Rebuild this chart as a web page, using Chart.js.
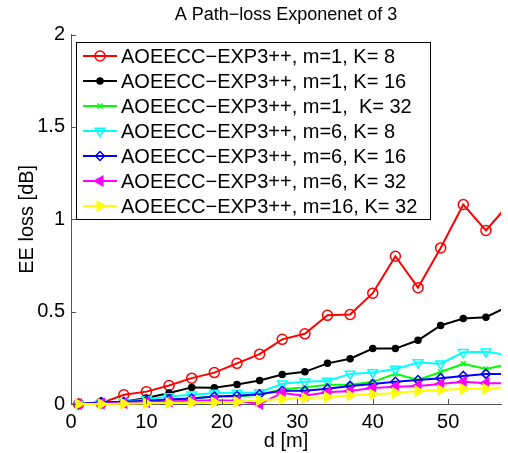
<!DOCTYPE html>
<html lang="en">
<head>
    <meta charset="UTF-8">
    <title>A Path-loss Exponenet of 3</title>

    <!-- Chart.js -->
    <script src="https://cdn.jsdelivr.net/npm/chart.js"></script>

    <style>
        html, body {
            margin: 0;
            padding: 0;
            background: #ffffff;
        }
        canvas {
            display: block;
        }
    </style>
</head>
<body>

    <canvas id="lossChart" width="508" height="453"></canvas>

    <script>
        // Distance d [m] of each sample
        const distances = [1, 4, 7, 10, 13, 16, 19, 22, 25, 28, 31, 34, 37, 40, 43, 46, 49, 52, 55, 58];

        // EE loss [dB] per configuration
        const m1K8   = [0, 0.005, 0.05, 0.067, 0.10, 0.14, 0.17, 0.22, 0.27, 0.35, 0.38, 0.48, 0.485, 0.60, 0.80, 0.63, 0.845, 1.08, 0.94, 1.08];
        const m1K16  = [0, 0.005, 0.012, 0.033, 0.06, 0.09, 0.088, 0.105, 0.127, 0.16, 0.174, 0.22, 0.245, 0.30, 0.30, 0.345, 0.425, 0.463, 0.47, 0.53];
        const m1K32  = [0, 0.003, 0.008, 0.015, 0.022, 0.03, 0.04, 0.04, 0.05, 0.08, 0.09, 0.104, 0.104, 0.12, 0.163, 0.13, 0.173, 0.218, 0.19, 0.215];
        const m6K8   = [0, 0.003, 0.012, 0.025, 0.04, 0.05, 0.06, 0.06, 0.062, 0.11, 0.12, 0.125, 0.163, 0.17, 0.19, 0.225, 0.218, 0.28, 0.283, 0.265];
        const m6K16  = [0, 0.01, 0.012, 0.018, 0.025, 0.03, 0.04, 0.045, 0.053, 0.072, 0.072, 0.083, 0.098, 0.108, 0.12, 0.13, 0.14, 0.152, 0.163, 0.163];
        const m6K32  = [0, 0.002, 0.005, 0.01, 0.014, 0.018, 0.02, 0.018, 0.0, 0.06, 0.045, 0.063, 0.07, 0.087, 0.093, 0.098, 0.108, 0.12, 0.113, 0.113];
        const m16K32 = [0, 0, 0.002, 0.004, 0.006, 0.008, 0.01, 0.012, 0.02, 0.027, 0.032, 0.037, 0.047, 0.053, 0.06, 0.07, 0.076, 0.082, 0.082, 0.09];

        const seriesLabels = [
            'AOEECC\u2212EXP3++, m=1, K= 8',
            'AOEECC\u2212EXP3++, m=1, K= 16',
            'AOEECC\u2212EXP3++, m=1,  K= 32',
            'AOEECC\u2212EXP3++, m=6, K= 8',
            'AOEECC\u2212EXP3++, m=6, K= 16',
            'AOEECC\u2212EXP3++, m=6, K= 32',
            'AOEECC\u2212EXP3++, m=16, K= 32'
        ];
        const seriesValues = [m1K8, m1K16, m1K32, m6K8, m6K16, m6K32, m16K32];

        // Tick labels
        const xTicks = [0, 10, 20, 30, 40, 50];
        const yTicks = [0, 0.5, 1, 1.5, 2];

        // Marker look per series (MATLAB style)
        const styles = [
            { color: '#ff0000', pointStyle: 'circle',   radius: 5,   rotation: 0,   fill: false },
            { color: '#000000', pointStyle: 'circle',   radius: 3,   rotation: 0,   fill: true  },
            { color: '#00ff00', pointStyle: 'crossRot', radius: 3.5, rotation: 0,   fill: false },
            { color: '#00ffff', pointStyle: 'triangle', radius: 5.5, rotation: 180, fill: false },
            { color: '#0000ff', pointStyle: 'rectRot',  radius: 4.5, rotation: 0,   fill: false },
            { color: '#ff00ff', pointStyle: 'triangle', radius: 5.5, rotation: -90, fill: true  },
            { color: '#ffff00', pointStyle: 'triangle', radius: 5.5, rotation: 90,  fill: true  }
        ];

        const FONT = "'Liberation Sans', Arial, Helvetica, sans-serif";

        const datasets = seriesValues.map((vals, i) => ({
            label: seriesLabels[i],
            data: distances.map((d, j) => ({ x: d, y: vals[j] })),
            borderColor: styles[i].color,
            backgroundColor: styles[i].color,
            borderWidth: 2,
            pointStyle: styles[i].pointStyle,
            pointRadius: styles[i].radius,
            pointRotation: styles[i].rotation,
            pointBorderWidth: 1.5,
            pointBorderColor: styles[i].color,
            pointBackgroundColor: styles[i].fill ? styles[i].color : 'rgba(0,0,0,0)',
            tension: 0,
            order: seriesValues.length - i, // later series on top, like MATLAB
            clip: { left: 10, top: 10, right: 0, bottom: 10 }
        }));

        // Ticks pointing into the plot
        const innerTicks = {
            id: 'innerTicks',
            afterDraw(chart) {
                const ctx = chart.ctx;
                const area = chart.chartArea;
                const xs = chart.scales.x, ys = chart.scales.y;
                ctx.save();
                ctx.strokeStyle = '#555555';
                ctx.lineWidth = 1;
                ctx.beginPath();
                xTicks.forEach(v => {
                    const px = Math.round(xs.getPixelForValue(v)) + 0.5;
                    ctx.moveTo(px, area.bottom);
                    ctx.lineTo(px, area.bottom - 5);
                });
                yTicks.forEach(v => {
                    const py = Math.round(ys.getPixelForValue(v)) + 0.5;
                    ctx.moveTo(area.left, py);
                    ctx.lineTo(area.left + 5, py);
                });
                ctx.stroke();
                ctx.restore();
            }
        };

        // Boxed legend inside the axes, top-left
        const boxLegend = {
            id: 'boxLegend',
            afterDraw(chart) {
                const ctx = chart.ctx;
                const box = { x: 76.5, y: 42.5, w: 354, h: 177 };
                ctx.save();
                ctx.fillStyle = '#ffffff';
                ctx.fillRect(box.x, box.y, box.w, box.h);
                ctx.strokeStyle = '#000000';
                ctx.lineWidth = 1;
                ctx.strokeRect(box.x, box.y, box.w, box.h);

                ctx.font = '20px ' + FONT;
                ctx.textBaseline = 'middle';
                chart.data.datasets.forEach((ds, i) => {
                    const y = 56 + i * 25;
                    ctx.strokeStyle = ds.borderColor;
                    ctx.lineWidth = ds.borderWidth;
                    ctx.beginPath();
                    ctx.moveTo(83, y);
                    ctx.lineTo(117, y);
                    ctx.stroke();

                    ctx.fillStyle = ds.pointBackgroundColor;
                    ctx.strokeStyle = ds.pointBorderColor;
                    ctx.lineWidth = ds.pointBorderWidth;
                    if (Chart.helpers && Chart.helpers.drawPoint) {
                        Chart.helpers.drawPoint(ctx, {
                            pointStyle: ds.pointStyle,
                            radius: ds.pointRadius,
                            rotation: ds.pointRotation,
                            borderWidth: ds.pointBorderWidth
                        }, 100, y);
                    }

                    ctx.fillStyle = '#000000';
                    ctx.fillText(ds.label, 121, y + 1);
                });
                ctx.restore();
            }
        };

        const ctx = document.getElementById('lossChart').getContext('2d');

        const lossChart = new Chart(ctx, {
            type: 'line',
            data: { datasets: datasets },
            options: {
                responsive: false,
                animation: false,
                devicePixelRatio: 1,
                layout: {
                    padding: { left: 0, right: 5, top: 0, bottom: 0 }
                },
                scales: {
                    x: {
                        type: 'linear',
                        min: 0,
                        max: 57,
                        afterBuildTicks: scale => {
                            scale.ticks = xTicks.map(v => ({ value: v }));
                        },
                        afterFit: scale => { scale.height = 49; },
                        grid: { drawOnChartArea: false, drawTicks: false },
                        border: { display: true, color: '#555555', width: 1 },
                        ticks: {
                            padding: 6,
                            color: '#000000',
                            font: { family: FONT, size: 20 }
                        },
                        title: {
                            display: true,
                            text: 'd [m]',
                            color: '#000000',
                            font: { family: FONT, size: 20 },
                            padding: { top: 1, bottom: 0 }
                        }
                    },
                    y: {
                        type: 'linear',
                        min: 0,
                        max: 2,
                        afterBuildTicks: scale => {
                            scale.ticks = yTicks.map(v => ({ value: v }));
                        },
                        afterFit: scale => { scale.width = 71; },
                        grid: { drawOnChartArea: false, drawTicks: false },
                        border: { display: true, color: '#555555', width: 1 },
                        ticks: {
                            padding: 6,
                            color: '#000000',
                            font: { family: FONT, size: 20 },
                            callback: v => String(v)
                        },
                        title: {
                            display: true,
                            text: 'EE loss [dB]',
                            color: '#000000',
                            font: { family: FONT, size: 20 },
                            padding: { top: 15, bottom: 0 }
                        }
                    }
                },
                plugins: {
                    legend: { display: false },
                    tooltip: { enabled: false },
                    title: {
                        display: true,
                        fullSize: false,
                        text: 'A Path\u2212loss Exponenet of 3',
                        color: '#000000',
                        font: { family: FONT, size: 18, weight: 'normal' },
                        padding: { top: 4, bottom: 9 }
                    }
                }
            },
            plugins: [innerTicks, boxLegend]
        });
    </script>

</body>
</html>
